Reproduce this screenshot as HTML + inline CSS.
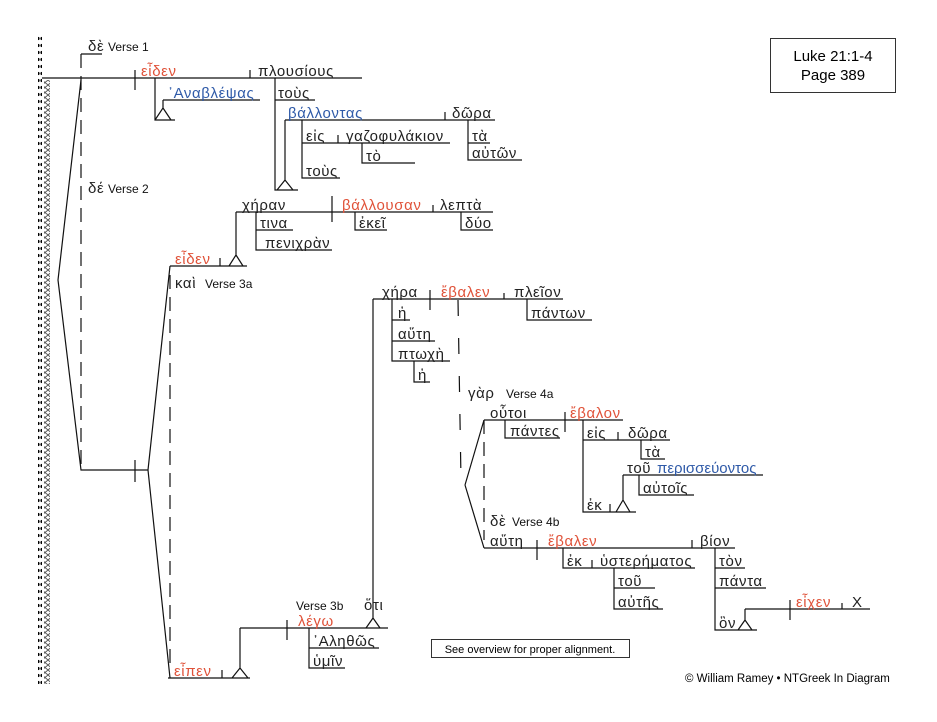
<!DOCTYPE html>
<html><head><meta charset="utf-8"><style>
body{margin:0;background:#fff}
svg{display:block}
text{font-family:"Liberation Sans","DejaVu Sans",sans-serif}
.g{font-size:15px;fill:#222;letter-spacing:0.6px}
.r{font-size:15px;fill:#e0533a;letter-spacing:0.6px}
.b{font-size:15px;fill:#2f5aa8;letter-spacing:0.6px}
.v{font-size:12px;fill:#111}
</style></head><body>
<svg width="937" height="722" viewBox="0 0 937 722" xmlns="http://www.w3.org/2000/svg">
<defs>
<pattern id="dots" width="4" height="7" patternUnits="userSpaceOnUse"><circle cx="2" cy="3.5" r="1.6" fill="#000"/></pattern>
<pattern id="hatch" width="6" height="5" patternUnits="userSpaceOnUse"><path d="M0 0L6 5M6 0L0 5" stroke="#555" stroke-width="0.9"/></pattern>
</defs>
<rect x="38" y="34" width="4" height="650" fill="url(#dots)"/>
<rect x="44" y="80" width="6" height="604" fill="url(#hatch)"/>
<g stroke="#111" stroke-width="1.2" fill="none">
<path d="M42 78H362M135 70V90M250 70V78"/>
<path d="M81 54H102"/>
<path d="M81 54V470" stroke-dasharray="14,8"/>
<path d="M81 80L58 280L81 470H148M135 460V482M148 470L170 266M148 470L170 678"/>
<path d="M170 275V668" stroke-dasharray="14,8"/>
<path d="M155 78V120H175M163 100H260M163 100V108L155 120M163 108L171 120"/>
<path d="M275 78V190H298M275 100H315M285 120V180L277 190M285 180L293 190M285 120H495M445 112V120M302 120V178H340M302 143H450M338 135V143M362 143V163H415M468 120V160H522M468 143H490"/>
<path d="M236 212H493M332 196V222M433 205V212M355 212V230H387M461 212V230H493M256 212V250H332M256 230H293M236 212V255L229 266M236 255L243 266M170 266H247M220 258V266"/>
<path d="M373 299H563M430 290V310M504 293V299M527 299V320H592M392 299V361H450M392 320H410M392 341H435M414 361V382H430M373 299V618L366 628M373 618L380 628"/>
<path d="M458 300L461 480" stroke-dasharray="16,22"/>
<path d="M240 628H388M287 620V640M309 628V668H345M309 648H379M240 628V668L232 678M240 668L248 678M168 678H250M222 670V678"/>
<path d="M465 485L484 420M465 485L484 548"/>
<path d="M484 420V540" stroke-dasharray="14,8"/>
<path d="M484 420H623M565 412V432M505 420V438H560M583 420V512H636M583 440H670M618 432V440M641 440V459H665M623 475H763M623 475V500L616 512M623 500L630 512M639 475V495H694M610 504V512"/>
<path d="M484 548H735M537 540V560M692 540V548M563 548V568H695M592 560V568M614 568V609H663M614 588H655M715 548V630H757M715 568H745M715 588H766M745 609H870M745 609V620L738 630M745 620L752 630M790 600V620M842 603V609"/>
</g>
<text x="88" y="51" class="g">δὲ</text><text x="108" y="51" class="v">Verse 1</text>
<text x="88" y="193" class="g">δέ</text><text x="108" y="193" class="v">Verse 2</text>
<text x="141" y="76" class="r">εἶδεν</text>
<text x="258" y="76" class="g">πλουσίους</text>
<text x="168" y="98" class="b">᾿Αναβλέψας</text>
<text x="278" y="98" class="g">τοὺς</text>
<text x="288" y="118" class="b">βάλλοντας</text>
<text x="452" y="118" class="g">δῶρα</text>
<text x="306" y="141" class="g">εἰς</text>
<text x="346" y="141" class="g">γαζοφυλάκιον</text>
<text x="366" y="161" class="g">τὸ</text>
<text x="472" y="141" class="g">τὰ</text>
<text x="472" y="158" class="g">αὐτῶν</text>
<text x="306" y="176" class="g">τοὺς</text>
<text x="242" y="210" class="g">χήραν</text>
<text x="342" y="210" class="r">βάλλουσαν</text>
<text x="440" y="210" class="g">λεπτὰ</text>
<text x="359" y="228" class="g">ἐκεῖ</text>
<text x="465" y="228" class="g">δύο</text>
<text x="260" y="228" class="g">τινα</text>
<text x="265" y="248" class="g">πενιχρὰν</text>
<text x="175" y="264" class="r">εἶδεν</text>
<text x="175" y="288" class="g">καὶ</text><text x="205" y="288" class="v">Verse 3a</text>
<text x="382" y="297" class="g">χήρα</text>
<text x="441" y="297" class="r">ἔβαλεν</text>
<text x="514" y="297" class="g">πλεῖον</text>
<text x="531" y="318" class="g">πάντων</text>
<text x="398" y="318" class="g">ἡ</text>
<text x="398" y="339" class="g">αὕτη</text>
<text x="398" y="359" class="g">πτωχὴ</text>
<text x="418" y="380" class="g">ἡ</text>
<text x="468" y="398" class="g">γὰρ</text><text x="506" y="398" class="v">Verse 4a</text>
<text x="490" y="418" class="g">οὗτοι</text>
<text x="570" y="418" class="r">ἔβαλον</text>
<text x="510" y="436" class="g">πάντες</text>
<text x="587" y="438" class="g">εἰς</text>
<text x="628" y="438" class="g">δῶρα</text>
<text x="645" y="457" class="g">τὰ</text>
<text x="627" y="473" class="g">τοῦ</text><text x="657" y="473" class="b" style="letter-spacing:0">περισσεύοντος</text>
<text x="643" y="493" class="g">αὐτοῖς</text>
<text x="587" y="510" class="g">ἐκ</text>
<text x="490" y="526" class="g">δὲ</text><text x="512" y="526" class="v">Verse 4b</text>
<text x="490" y="546" class="g">αὕτη</text>
<text x="548" y="546" class="r">ἔβαλεν</text>
<text x="700" y="546" class="g">βίον</text>
<text x="567" y="566" class="g">ἐκ</text>
<text x="600" y="566" class="g">ὑστερήματος</text>
<text x="618" y="586" class="g">τοῦ</text>
<text x="618" y="607" class="g">αὐτῆς</text>
<text x="719" y="566" class="g">τὸν</text>
<text x="719" y="586" class="g">πάντα</text>
<text x="719" y="628" class="g">ὃν</text>
<text x="796" y="607" class="r">εἶχεν</text>
<text x="852" y="607" class="g">X</text>
<text x="296" y="610" class="v">Verse 3b</text>
<text x="364" y="610" class="g">ὅτι</text>
<text x="298" y="626" class="r">λέγω</text>
<text x="313" y="646" class="g">᾿Αληθῶς</text>
<text x="313" y="666" class="g">ὑμῖν</text>
<text x="174" y="676" class="r">εἶπεν</text>
<rect x="770.5" y="38.5" width="125" height="54" fill="none" stroke="#333"/>
<text x="833" y="61" text-anchor="middle" style="font-size:15px">Luke 21:1-4</text>
<text x="833" y="80" text-anchor="middle" style="font-size:15px">Page 389</text>
<rect x="431.5" y="639.5" width="198" height="18" fill="none" stroke="#333"/>
<text x="530" y="653" text-anchor="middle" style="font-size:11px">See overview for proper alignment.</text>
<text x="685" y="682" style="font-size:11.5px">© William Ramey • NTGreek In Diagram</text>
</svg>
</body></html>
